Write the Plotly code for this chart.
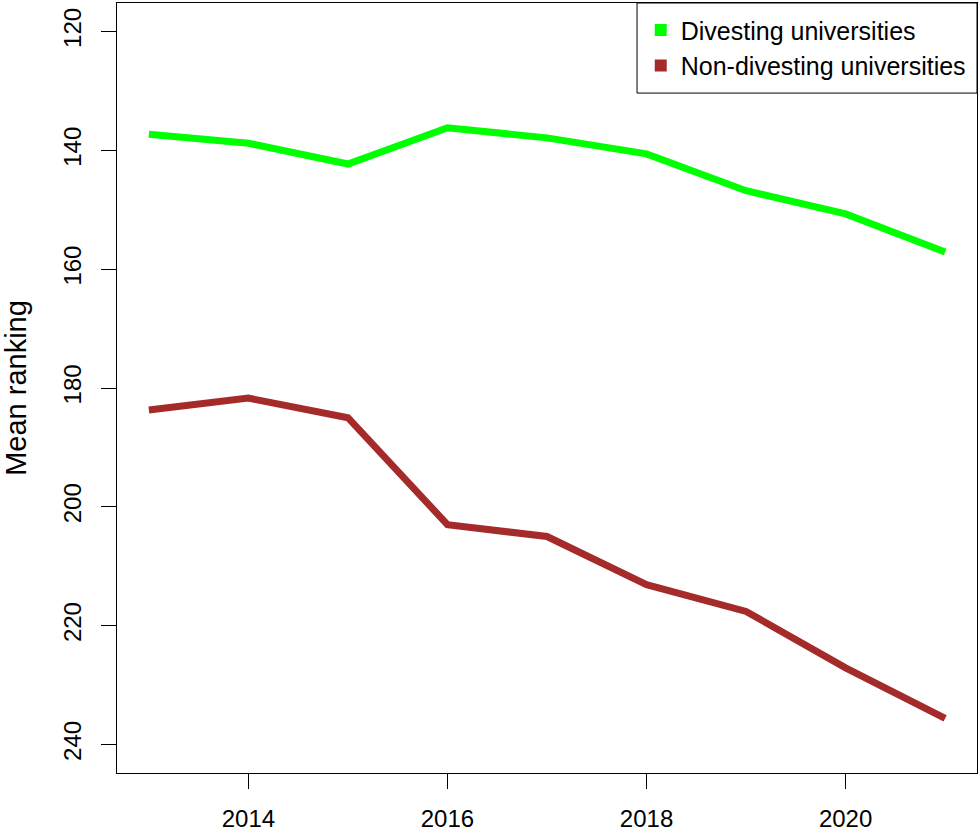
import plotly.graph_objects as go

years = [2013, 2014, 2015, 2016, 2017, 2018, 2019, 2020, 2021]
divesting = [137.3, 138.8, 142.3, 136.2, 137.9, 140.6, 146.8, 150.7, 157.1]
non_divesting = [183.7, 181.7, 185.0, 203.0, 205.0, 213.1, 217.6, 227.1, 235.6]
series_names = ["Divesting universities", "Non-divesting universities"]
series_colors = ["#00FF00", "#A52A2A"]
x_ticks = [2014, 2016, 2018, 2020]
y_ticks = [120, 140, 160, 180, 200, 220, 240]

fig = go.Figure()
for vals, name, col in zip([divesting, non_divesting], series_names, series_colors):
    fig.add_trace(go.Scatter(x=years, y=vals, mode="lines", name=name,
                             line=dict(color=col, width=7), showlegend=False))
for name, col in zip(series_names, series_colors):
    fig.add_trace(go.Scatter(x=[None], y=[None], mode="markers", name=name,
                             marker=dict(symbol="square", size=10, color=col)))

font = "Liberation Sans, Arial, sans-serif"
fig.update_layout(
    width=980, height=831,
    margin=dict(l=117, r=3, t=3, b=58),
    paper_bgcolor="white", plot_bgcolor="white",
    font=dict(family=font, size=24, color="black"),
    showlegend=True,
    legend=dict(x=0.609, y=0.942, xanchor="left", yanchor="middle",
                borderwidth=0, bgcolor="rgba(0,0,0,0)",
                font=dict(size=25), itemsizing="constant",
                tracegroupgap=0),
    shapes=[dict(type="rect", xref="paper", yref="paper",
                 x0=0.6047, x1=1, y0=0.883, y1=1,
                 line=dict(color="black", width=1), fillcolor="rgba(0,0,0,0)")],
    xaxis=dict(range=[2012.68, 2021.32], tickvals=x_ticks, automargin=False,
               showgrid=False, zeroline=False,
               showline=True, linecolor="black", linewidth=1.3, mirror=True,
               ticks="outside", ticklen=15, tickwidth=1.3, tickcolor="black",
               ticklabelstandoff=9),
    yaxis=dict(range=[244.8, 115.2], tickvals=y_ticks, automargin=False,
               showgrid=False, zeroline=False,
               showline=True, linecolor="black", linewidth=1.3, mirror=True,
               ticks="outside", ticklen=15, tickwidth=1.3, tickcolor="black",
               tickangle=-90, ticklabelstandoff=10,
               title=dict(text="Mean ranking", standoff=29)),
)

fig.write_html("out.html", config={"displayModeBar": False},
               post_script="document.body.style.margin='0';document.body.style.overflow='hidden';")
